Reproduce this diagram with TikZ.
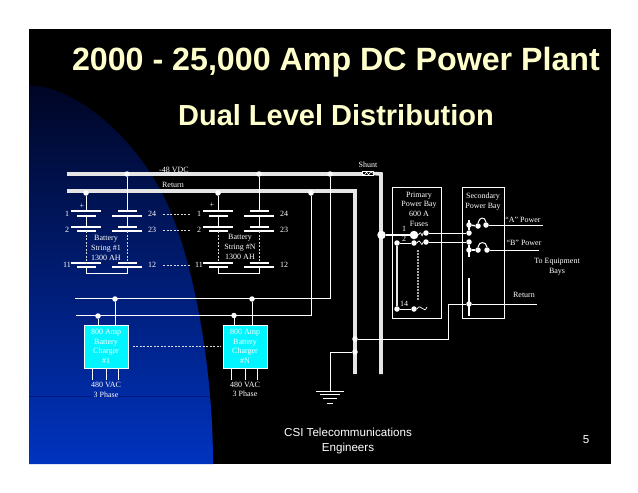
\documentclass[tikz,border=0pt]{standalone}
\usepackage{fontspec}
\setmainfont{Liberation Serif}
\newfontfamily\arialfont{Liberation Sans}
\usepackage{tikz}
\usetikzlibrary{positioning}
\usetikzlibrary{calc}
\definecolor{titleCream}{rgb}{1,1,0.8}
\definecolor{slideBlue}{rgb}{0,0.2,0.75}
\definecolor{slideMid}{rgb}{0,0.15,0.63}
\definecolor{slideNavy}{rgb}{0,0.02,0.14}
\definecolor{slideRule}{rgb}{0,0.1,0.5}
\definecolor{chargerCyan}{rgb}{0,0.96,1}
\tikzstyle{title} = [font={\arialfont\bfseries\fontsize{32.2}{35}\selectfont}, text=titleCream, inner sep=0pt]
\tikzstyle{subtitle} = [title, font={\arialfont\bfseries\fontsize{29}{32}\selectfont}]
\tikzstyle{footer} = [font={\arialfont\fontsize{11.6}{15}\selectfont}, text=white, align=center, inner sep=0pt]
\tikzstyle{lbl} = [font={\fontsize{8}{9.6}\selectfont}, text=white, align=center, inner sep=0pt]
\tikzstyle{bus} = [white!90!black, line width=3.6pt]
\tikzstyle{wire} = [white, line width=1pt]
\tikzstyle{feed} = [white, line width=1.5pt]
\tikzstyle{link} = [white!85!black, line width=0.6pt, dashed, dash pattern=on 2pt off 1.5pt]
\tikzstyle{junction} = [circle, fill=white, inner sep=0pt, minimum size=5.5pt]
\tikzstyle{bigjunction} = [junction, minimum size=8.5pt]
\tikzstyle{plateLong} = [fill=white, inner sep=0pt, minimum width=30pt, minimum height=1.3pt]
\tikzstyle{plateShort} = [fill=white, inner sep=0pt, minimum width=19pt, minimum height=1.3pt]
\tikzstyle{bay} = [draw=white, line width=1pt, inner sep=0pt]
\tikzstyle{charger} = [draw=white, line width=1pt, fill=chargerCyan, minimum width=44pt, minimum height=43pt,
        inner sep=0pt, align=center, text=white, font={\fontsize{8}{9.6}\selectfont}]
\newcommand{\batterystring}[3]{
    \foreach \row/\ytop/\ybot in {a/211/216, b/227/231, c/263/267} {
        \node [plateLong] (#1L\row t) at (#2,\ytop) {};
        \node [plateShort] (#1L\row b) at (#2,\ybot) {};
        \node [plateShort] (#1R\row t) at (#3,\ytop) {};
        \node [plateLong] (#1R\row b) at (#3,\ybot) {};
    }
    \coordinate (#1Lend) at (#2,273);
    \coordinate (#1Rend) at (#3,273);
    \draw [wire] (#1Lab.center) -- (#1Lbt.center);
    \draw [wire] (#1Rab.center) -- (#1Rbt.center);
    \draw [link] (#1Lbb.center) -- (#1Lct.center);
    \draw [link] (#1Rbb.center) -- (#1Rct.center);
    \draw [wire] (#1Lcb.center) -- (#1Lend) -- (#1Rend) -- (#1Rcb.center);
}
\begin{document}
\begin{tikzpicture}[x=1pt, y=-1pt]
    \useasboundingbox (0,0) rectangle (638,493);
    % slide
    \fill [black] (29,29) rectangle (611,464);
    \shade [top color=slideNavy, middle color=slideMid, bottom color=slideBlue]
        (29,85) .. controls (85,88) and (145,150) .. (170,210)
        .. controls (195,270) and (213,370) .. (213,464) -- (29,464) -- cycle;
    \draw [slideRule, line width=0.6pt] (29,396) -- (210,396);
    \node [title] (title) at (336,62) {2000 - 25,000 Amp DC Power Plant};
    \node [subtitle] (subtitle) at (336,115) {Dual Level Distribution};
    \node [footer] (footer) at (348,441) {CSI Telecommunications\\Engineers};
    \node [footer] (pagenum) at (586,440) {5};
    % bus bars
    \coordinate (negW) at (67,174);
    \coordinate (negE) at (362,174);
    \coordinate (negCorner) at (381,174);
    \coordinate (negS) at (381,374);
    \coordinate (retW) at (67,191);
    \coordinate (retCorner) at (355,191);
    \coordinate (retS) at (355,374);
    \draw [bus] (negW) -- (negE);
    \draw [bus] (retW) -- (retCorner) -- (retS);
    \node [draw=white, fill=black, line width=0.8pt, minimum width=11pt, minimum height=3.5pt, inner sep=0pt] (shunt) at (367.5,173.5) {};
    \draw [bus] (shunt.east) -- (negCorner) -- (negS);
    \draw [white, line width=0.6pt] (shunt.west) -- ++(3,1.5) -- ++(2,-3) -- ++(2,3) -- ++(2,-3) -- (shunt.east);
    \node [lbl] (shuntlbl) at (368,165) {Shunt};
    \node [lbl] (negV) at (174,169.5) {-48 VDC};
    \node [lbl] (retlbl) at (173,185) {Return};
    % junctions on the bars
    \node [junction] (negA) at (127,174) {};
    \node [junction] (negB) at (259,174) {};
    \node [junction] (negC) at (330,174) {};
    \node [junction] (retA) at (86,193) {};
    \node [junction] (retB) at (218,193) {};
    \node [junction] (retC) at (311,193) {};
    % battery strings
    \batterystring{sa}{86}{127}
    \batterystring{sn}{218}{259}
    \draw [wire] (retA) -- (saLat.center);
    \draw [wire] (negA) -- (saRat.center);
    \draw [wire] (retB) -- (snLat.center);
    \draw [wire] (negB) -- (snRat.center);
    \foreach \name/\xl/\xr in {sa/67/152, sn/199/284} {
        \node [lbl] (\name one) at (\xl,214) {1};
        \node [lbl] (\name two) at (\xl,230) {2};
        \node [lbl] (\name eleven) at (\xl,265) {11};
        \node [lbl] (\name tf) at (\xr,214) {24};
        \node [lbl] (\name tt) at (\xr,230) {23};
        \node [lbl] (\name tw) at (\xr,265) {12};
    }
    \node [lbl] (saplus) at (82,206) {+};
    \node [lbl] (snplus) at (212,205) {+};
    \node [lbl] (salbl) at (106,248) {Battery\\String \#1\\1300 AH};
    \node [lbl] (snlbl) at (240,247) {Battery\\String \#N\\1300 AH};
    \draw [link] ($(satf.east)+(7,0)$) -- ($(snone.west)+(-6,0)$);
    \draw [link] ($(satt.east)+(7,0)$) -- ($(sntwo.west)+(-6,0)$);
    \draw [link] ($(satw.east)+(7,0)$) -- ($(sneleven.west)+(-5,0)$);
    % chargers
    \node [charger] (chgA) at (106,346.5) {800 Amp\\Battery\\Charger\\\#1};
    \node [charger, right=94pt of chgA] (chgN) {800 Amp\\Battery\\Charger\\\#N};
    \draw [link] ($(chgA.east)+(4,0)$) -- ($(chgN.west)+(-2,0)$);
    \node [junction] (dcRetA) at (98,316) {};
    \node [junction] (dcRetN) at (234,315.5) {};
    \node [junction] (dcNegA) at (115,299) {};
    \node [junction] (dcNegN) at (252,299) {};
    \coordinate (dcRetW) at (76,315.5);
    \coordinate (dcNegW) at (75,298.5);
    \draw [wire] (retC) |- (dcRetW);
    \draw [wire] (negC) |- (dcNegW);
    \draw [wire] (dcRetA) -- (dcRetA |- chgA.north);
    \draw [wire] (dcRetN) -- (dcRetN |- chgN.north);
    \draw [wire] (dcNegA) -- (dcNegA |- chgA.north);
    \draw [wire] (dcNegN) -- (dcNegN |- chgN.north);
    \foreach \dx in {-14,0,12} {
        \draw [wire] (chgA.south) ++(\dx,0) -- ++(0,11);
        \draw [wire] (chgN.south) ++(\dx,0) -- ++(0,11);
    }
    \node [lbl] (acA) at (106,390) {480 VAC\\3 Phase};
    \node [lbl] (acN) at (245,389.5) {480 VAC\\3 Phase};
    % primary bay
    \node [bay, minimum width=49pt, minimum height=131pt] (primary) at (416.5,252.5) {};
    \node [lbl] (primarylbl) at (419,209) {Primary\\Power Bay\\600 A\\Fuses};
    \node [bigjunction] (tapNeg) at (381.5,235) {};
    \node [bigjunction] (fuseA) at (414,235) {};
    \node [junction] (fuseB) at (414,243) {};
    \node [junction] (fuseN) at (414,309) {};
    \node [junction] (tapA) at (397,243) {};
    \node [junction] (tapN) at (397,309) {};
    \node [junction] (outA) at (426,233) {};
    \node [junction] (outB) at (426,242) {};
    \coordinate (outN) at (427,307);
    \draw [feed] (tapNeg) -- (fuseA);
    \draw [wire] (tapA) -- (fuseB);
    \draw [wire] (tapN) -- (fuseN);
    \draw [white!90!black, line width=1.8pt] (tapA) -- (tapN);
    \draw [wire, line width=0.7pt] (fuseA.east) .. controls +(4,-7) and +(-2,8) .. (outA.west);
    \draw [wire, line width=0.7pt] (fuseB.east) .. controls +(4,-7) and +(-2,8) .. (outB.west);
    \draw [wire, line width=0.7pt] (fuseN.east) .. controls +(4,-7) and +(-3,8) .. (outN);
    \coordinate (dotsTop) at (418,250);
    \coordinate (dotsEnd) at (418,300);
    \draw [white!65!black, line width=1.3pt, dash pattern=on 1.5pt off 1.5pt] (dotsTop) -- (dotsEnd);
    \node [lbl] (fuselblA) at (404,229) {1};
    \node [lbl] (fuselblB) at (404,239) {2};
    \node [lbl] (fuselblN) at (404,304) {14};
    % secondary bay
    \node [bay, minimum width=42pt, minimum height=131pt, right=20pt of primary] (secondary) {};
    \node [lbl] (secondarylbl) at (483,201.5) {Secondary\\Power Bay};
    \node [junction] (inA) at (469,233) {};
    \node [junction] (inB) at (469,242) {};
    \draw [wire] (outA) -- (inA);
    \draw [wire] (outB) -- (inB);
    \node [junction] (swA) at (469,225) {};
    \node [junction] (swAa) at (478,226) {};
    \node [junction] (swAb) at (486,225) {};
    \node [junction] (swB) at (469,250) {};
    \node [junction] (swBa) at (478,250) {};
    \node [junction] (swBb) at (487,250) {};
    \coordinate (barAtop) at (469,220);
    \coordinate (barBend) at (469,257);
    \draw [feed] (barAtop) -- (inA);
    \draw [feed] (inB) -- (barBend);
    \draw [feed] (swA) -- (swAa);
    \draw [feed] (swB) -- (swBa);
    \draw [wire] (swAa.north) .. controls +(1,-6) and +(-1,-6) .. (swAb.north);
    \draw [wire] (swBa.north) .. controls +(1,-6) and +(-1,-6) .. (swBb.north);
    \coordinate (feedA) at (543,225);
    \coordinate (feedB) at (539,250);
    \draw [wire] (swAb) -- (feedA);
    \draw [wire] (swBb) -- (feedB);
    \node [lbl] (feedAlbl) at (523,220) {``A'' Power};
    \node [lbl] (feedBlbl) at (524,243) {``B'' Power};
    \node [lbl] (baysLbl) at (557,266.5) {To Equipment\\Bays};
    % return path and ground
    \node [junction] (swRet) at (469,304) {};
    \coordinate (retbarTop) at (469,278);
    \coordinate (retbarEnd) at (469,316);
    \draw [feed] (retbarTop) -- (retbarEnd);
    \coordinate (retFeed) at (537,304);
    \draw [wire] (swRet) -- (retFeed);
    \node [lbl] (retfeedlbl) at (524,295) {Return};
    \node [junction] (retJoin) at (355,339) {};
    \node [junction] (gndJoin) at (355,352) {};
    \coordinate (retStep) at (448,304);
    \coordinate (retLow) at (448,339);
    \draw [wire] (swRet) -- (retStep) -- (retLow) -- (retJoin);
    \coordinate (gnd) at (330,391);
    \draw [wire] (gndJoin) -| (gnd);
    \draw [wire] (gnd) ++(-14,0) -- ++(28,0);
    \draw [wire] (gnd) ++(-10,3) -- ++(20,0);
    \draw [wire] (gnd) ++(-7,7) -- ++(14,0);
    \draw [wire] (gnd) ++(-3,12) -- ++(6,0);
\end{tikzpicture}
\end{document}
